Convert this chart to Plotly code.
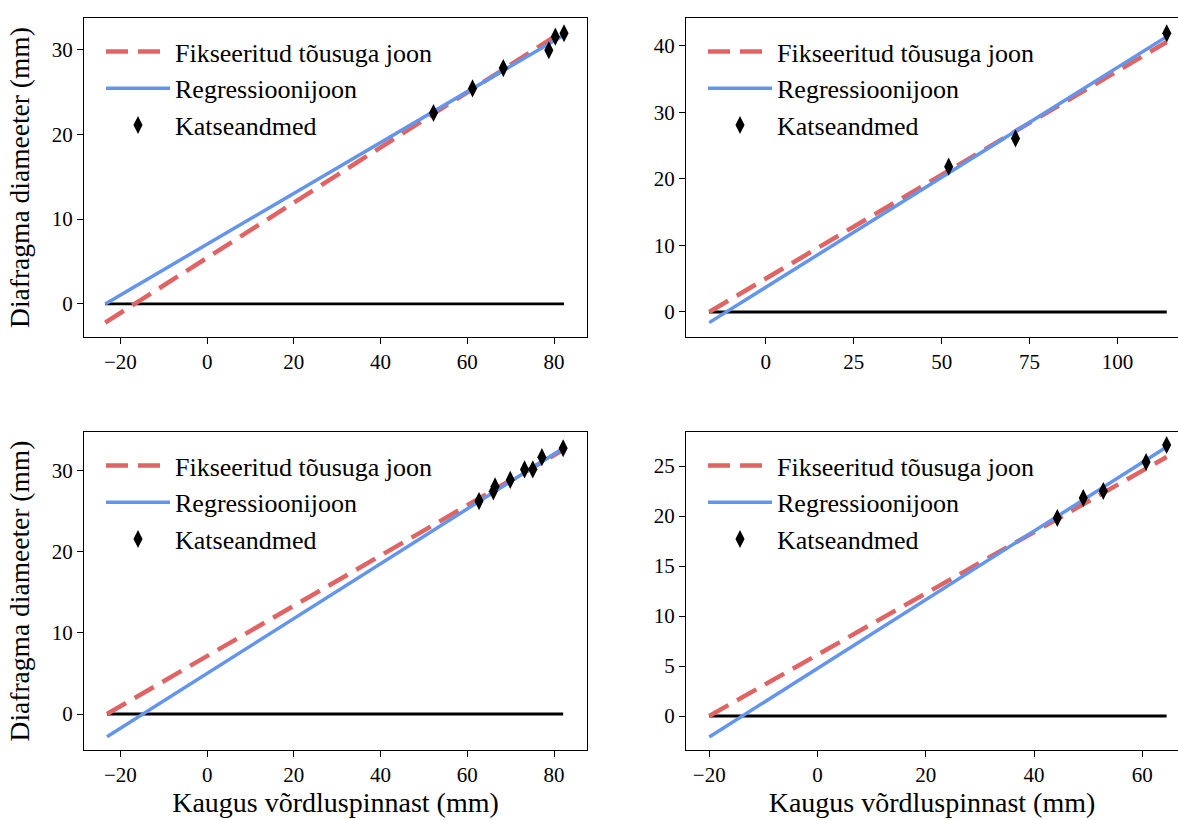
import plotly.graph_objects as go

FONT = "Liberation Serif"
RED = "#e06464"
BLUE = "#6495ed"

legend_labels = ["Fikseeritud tõusuga joon", "Regressioonijoon", "Katseandmed"]
x_title = "Kaugus võrdluspinnast (mm)"
y_title = "Diafragma diameeter (mm)"

# ---- subplot 1 (top-left) ----
p1_x = [52.2, 61.2, 68.3, 78.8, 80.3, 82.3]
p1_y = [22.5, 25.4, 27.8, 29.9, 31.5, 31.9]
p1_line_x = [-23.5, 82.3]
p1_fixed_y = [-2.2, 32.2]
p1_reg_y = [0.0, 31.7]

# ---- subplot 2 (top-right) ----
p2_x = [52.0, 71.0, 114.0]
p2_y = [21.85, 26.1, 41.9]
p2_line_x = [-16.1, 114.0]
p2_fixed_y = [0.0, 40.6]
p2_reg_y = [-1.6, 41.4]

# ---- subplot 3 (bottom-left) ----
p3_x = [62.7, 66.0, 66.4, 69.9, 73.2, 75.1, 77.2, 82.1]
p3_y = [26.2, 27.4, 28.0, 28.8, 30.1, 30.1, 31.6, 32.7]
p3_line_x = [-23.1, 82.1]
p3_fixed_y = [0.0, 32.5]
p3_reg_y = [-2.8, 32.7]

# ---- subplot 4 (bottom-right) ----
p4_x = [44.3, 49.1, 52.8, 60.7, 64.5]
p4_y = [19.8, 21.8, 22.5, 25.4, 27.1]
p4_line_x = [-20.0, 64.5]
p4_fixed_y = [0.0, 25.9]
p4_reg_y = [-2.1, 26.9]

# tick values
p1_xticks = [-20, 0, 20, 40, 60, 80]
p1_yticks = [0, 10, 20, 30]
p2_xticks = [0, 25, 50, 75, 100]
p2_yticks = [0, 10, 20, 30, 40]
p3_xticks = [-20, 0, 20, 40, 60, 80]
p3_yticks = [0, 10, 20, 30]
p4_xticks = [-20, 0, 20, 40, 60]
p4_yticks = [0, 5, 10, 15, 20, 25]

# axis ranges
p1_xrange = [-28.4, 87.6]
p1_yrange = [-3.9, 33.7]
p2_xrange = [-22.7, 117.2]
p2_yrange = [-3.76, 44.2]
p3_xrange = [-28.4, 87.6]
p3_yrange = [-4.43, 34.7]
p4_xrange = [-24.3, 66.6]
p4_yrange = [-3.4, 28.4]

W, H = 1178, 820

def px_x(p):
    return p / W

def px_y(p):
    return 1 - p / H

panels = [
    dict(x=p1_x, y=p1_y, lx=p1_line_x, fy=p1_fixed_y, ry=p1_reg_y,
         xt=p1_xticks, yt=p1_yticks, xr=p1_xrange, yr=p1_yrange,
         dom_x=[84, 587], dom_y=[18, 337], right=True, xtitle=False, ytitle=True),
    dict(x=p2_x, y=p2_y, lx=p2_line_x, fy=p2_fixed_y, ry=p2_reg_y,
         xt=p2_xticks, yt=p2_yticks, xr=p2_xrange, yr=p2_yrange,
         dom_x=[686, 1178], dom_y=[18, 337], right=False, xtitle=False, ytitle=False),
    dict(x=p3_x, y=p3_y, lx=p3_line_x, fy=p3_fixed_y, ry=p3_reg_y,
         xt=p3_xticks, yt=p3_yticks, xr=p3_xrange, yr=p3_yrange,
         dom_x=[84, 587], dom_y=[432, 750], right=True, xtitle=True, ytitle=True),
    dict(x=p4_x, y=p4_y, lx=p4_line_x, fy=p4_fixed_y, ry=p4_reg_y,
         xt=p4_xticks, yt=p4_yticks, xr=p4_xrange, yr=p4_yrange,
         dom_x=[686, 1178], dom_y=[432, 750], right=False, xtitle=True, ytitle=False),
]

fig = go.Figure()
layout = dict(
    width=W, height=H,
    margin=dict(l=0, r=0, t=0, b=0),
    paper_bgcolor="white", plot_bgcolor="white",
    font=dict(family=FONT, size=21, color="black"),
    showlegend=True,
)

for i, p in enumerate(panels):
    n = i + 1
    xa = "x" if n == 1 else f"x{n}"
    ya = "y" if n == 1 else f"y{n}"
    lg = "legend" if n == 1 else f"legend{n}"
    fig.add_trace(go.Scatter(
        x=p["lx"], y=[0, 0], mode="lines", xaxis=xa, yaxis=ya,
        line=dict(color="black", width=2.8), showlegend=False, hoverinfo="skip"))
    fig.add_trace(go.Scatter(
        x=p["lx"], y=p["fy"], mode="lines", xaxis=xa, yaxis=ya, legend=lg,
        name=legend_labels[0], line=dict(color=RED, width=4.5, dash="22px,10px")))
    fig.add_trace(go.Scatter(
        x=p["lx"], y=p["ry"], mode="lines", xaxis=xa, yaxis=ya, legend=lg,
        name=legend_labels[1], line=dict(color=BLUE, width=3.5)))
    fig.add_trace(go.Scatter(
        x=p["x"], y=p["y"], mode="markers", xaxis=xa, yaxis=ya, legend=lg,
        name=legend_labels[2], cliponaxis=False,
        marker=dict(symbol="diamond-tall", size=13, color="black")))

    xkey = "xaxis" if n == 1 else f"xaxis{n}"
    ykey = "yaxis" if n == 1 else f"yaxis{n}"
    layout[xkey] = dict(
        domain=[px_x(p["dom_x"][0]), px_x(p["dom_x"][1])],
        anchor=ya, range=p["xr"], tickvals=p["xt"],
        showgrid=False, zeroline=False, showline=True, mirror=True,
        linecolor="black", linewidth=1.3, ticks="outside", ticklen=6,
        tickwidth=1.3, tickcolor="black", tickfont=dict(size=21),
        title=dict(text=x_title if p["xtitle"] else "", font=dict(size=28), standoff=6),
    )
    layout[ykey] = dict(
        domain=[px_y(p["dom_y"][1]), px_y(p["dom_y"][0])],
        anchor=xa, range=p["yr"], tickvals=p["yt"],
        showgrid=False, zeroline=False, showline=True, mirror=p["right"],
        linecolor="black", linewidth=1.3, ticks="outside", ticklen=6,
        tickwidth=1.3, tickcolor="black", tickfont=dict(size=21),
        title=dict(text=y_title if p["ytitle"] else "", font=dict(size=27.5), standoff=14),
    )
    layout[lg] = dict(
        x=px_x(p["dom_x"][0] + 17), y=px_y(p["dom_y"][0] + 10),
        xanchor="left", yanchor="top", bgcolor="rgba(0,0,0,0)",
        borderwidth=0, font=dict(size=26), itemwidth=64,
        tracegroupgap=0,
    )

fig.update_layout(**layout)
fig.write_html("out.html", config={"displayModeBar": False},
               post_script="document.body.style.margin='0px';")
